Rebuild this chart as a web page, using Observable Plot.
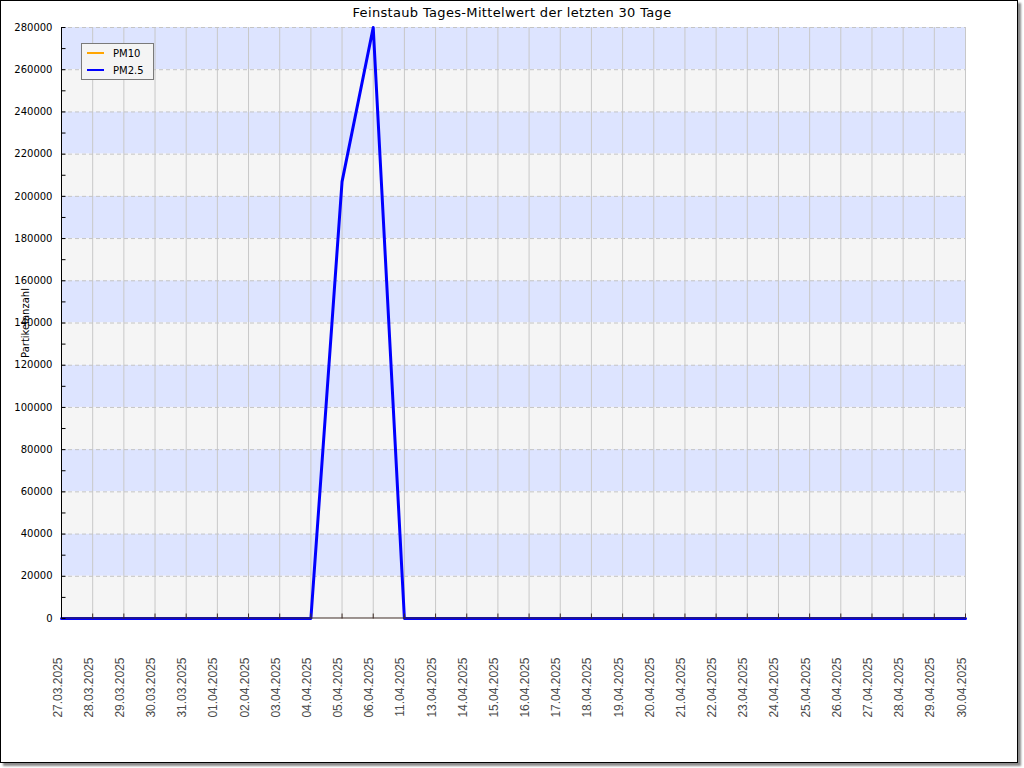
<!DOCTYPE html>
<html>
<head>
<meta charset="utf-8">
<script src="https://cdn.jsdelivr.net/npm/d3@7"></script>
<script src="https://cdn.jsdelivr.net/npm/@observablehq/plot@0.6"></script>
<style>
  html, body { margin: 0; padding: 0; background: #fff; }
  #wrap { position: relative; width: 1024px; height: 768px; overflow: hidden; }
  #frame { position: absolute; left: 0; top: 0; width: 1016px; height: 761px; border: 1px solid #000;
           box-shadow: 3px 3px 2px #8a8a8a; pointer-events: none; }
  #title { position: absolute; left: 0; width: 1024px; top: 4px; line-height: 18px; text-align: center;
           font-family: "DejaVu Sans"; font-size: 13px; letter-spacing: 0.33px; color: #000; }
  #legend { position: absolute; left: 81px; top: 43px; width: 71px; height: 35px; border: 1px solid #7a7a7a;
            background: #f4f4f4; font-family: "DejaVu Sans"; font-size: 10px; color: #000; }
  .item { position: absolute; left: 0; height: 12px; display: flex; align-items: center; }
  .sw { width: 17px; height: 0; border-top: 2px solid; margin-left: 5px; margin-right: 9px; }
</style>
</head>
<body>
<div id="wrap"></div>
<script>
const title = "Feinstaub Tages-Mittelwert der letzten 30 Tage";
const yLabel = "Partikelanzahl";
const dates = ["27.03.2025","28.03.2025","29.03.2025","30.03.2025","31.03.2025","01.04.2025","02.04.2025",
  "03.04.2025","04.04.2025","05.04.2025","06.04.2025","11.04.2025","13.04.2025","14.04.2025","15.04.2025",
  "16.04.2025","17.04.2025","18.04.2025","19.04.2025","20.04.2025","21.04.2025","22.04.2025","23.04.2025",
  "24.04.2025","25.04.2025","26.04.2025","27.04.2025","28.04.2025","29.04.2025","30.04.2025"];
// PM10 has no visible values in the chart (legend entry only)
const pm10 = [null,null,null,null,null,null,null,null,null,null,null,null,null,null,null,
  null,null,null,null,null,null,null,null,null,null,null,null,null,null,null];
const pm25 = [0,0,0,0,0,0,0,0,0,207000,280000,0,0,0,0,0,0,0,0,0,0,0,0,0,0,0,0,0,0,0];
const yTicks = [0,20000,40000,60000,80000,100000,120000,140000,160000,180000,200000,220000,240000,260000,280000];
const yMinorTicks = [10000,30000,50000,70000,90000,110000,130000,150000,170000,190000,210000,230000,250000,270000];
const seriesNames = ["PM10","PM2.5"];
const seriesColors = ["#ffa500","#0000ff"];

const rows = dates.map((d, i) => ({date: d, pm10: pm10[i], pm25: pm25[i]}));
const bands = yTicks.slice(0, -1).map((t, i) => ({y1: t, y2: yTicks[i + 1], blue: i % 2 === 1}));

const tickRight = {draw(ctx) { ctx.moveTo(0, 0); ctx.lineTo(4, 0); }};
const tickUp = {draw(ctx) { ctx.moveTo(0, 0); ctx.lineTo(0, -5); }};

const chart = Plot.plot({
  width: 1024, height: 768,
  marginLeft: 61, marginRight: 59, marginTop: 27, marginBottom: 150,
  style: {fontFamily: "DejaVu Sans", fontSize: "10px", background: "transparent", overflow: "visible"},
  x: {type: "point", domain: dates, padding: 0, round: false, axis: null},
  y: {domain: [0, 280000], axis: null},
  marks: [
    Plot.rect(bands.filter(b => b.blue), {y1: "y1", y2: "y2", fill: "#dde4ff"}),
    Plot.rect(bands.filter(b => !b.blue), {y1: "y1", y2: "y2", fill: "#f5f5f5"}),
    Plot.ruleX(dates, {x: d => d, stroke: "#c8c8c8", strokeWidth: 1}),
    Plot.ruleY(yTicks.slice(1), {y: d => d, stroke: "#c4c4c4", strokeDasharray: "4,3"}),
    Plot.line(rows, {x: "date", y: "pm10", stroke: seriesColors[0], strokeWidth: 3}),
    Plot.line(rows, {x: "date", y: "pm25", stroke: seriesColors[1], strokeWidth: 3}),
    Plot.ruleY([0], {stroke: "#3f2d26", strokeWidth: 1.2, dy: -0.5}),
    Plot.dot(dates, {x: d => d, frameAnchor: "bottom", symbol: tickUp, stroke: "#3f2d26", fill: "none", strokeWidth: 1}),
    Plot.ruleX([dates[0]], {x: d => d, stroke: "#000", strokeWidth: 1}),
    Plot.dot(yTicks.concat(yMinorTicks), {y: d => d, frameAnchor: "left", symbol: tickRight, stroke: "#000", fill: "none", strokeWidth: 1}),
    Plot.text(yTicks, {y: d => d, frameAnchor: "left", dx: -9, textAnchor: "end", text: d => String(d), fill: "#000", fontSize: 10}),
    Plot.text(dates, {x: d => d, frameAnchor: "bottom", rotate: -90, textAnchor: "end", dy: 39, text: d => d,
      fill: "#4a4a4a", fontFamily: "Liberation Sans", fontSize: 12}),
    Plot.text([yLabel], {frameAnchor: "left", rotate: -90, textAnchor: "middle", dx: -36, text: d => d, fill: "#000", fontSize: 10})
  ]
});

const wrap = document.getElementById("wrap");
wrap.appendChild(chart);

const t = document.createElement("div");
t.id = "title";
t.textContent = title;
wrap.appendChild(t);

const legend = document.createElement("div");
legend.id = "legend";
seriesNames.forEach((name, i) => {
  const it = document.createElement("div");
  it.className = "item";
  it.style.top = (3 + i * 17) + "px";
  const sw = document.createElement("span");
  sw.className = "sw";
  sw.style.borderTopColor = seriesColors[i];
  it.appendChild(sw);
  it.appendChild(document.createTextNode(name));
  legend.appendChild(it);
});
wrap.appendChild(legend);

const frame = document.createElement("div");
frame.id = "frame";
wrap.appendChild(frame);
</script>
</body>
</html>
